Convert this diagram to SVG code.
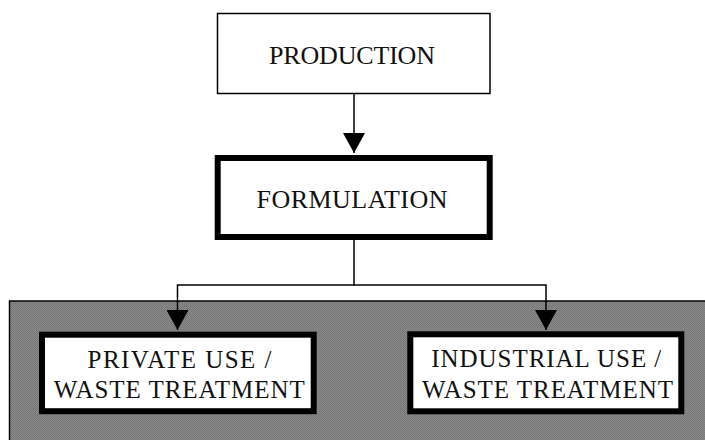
<svg xmlns="http://www.w3.org/2000/svg" width="705" height="440" viewBox="0 0 705 440">
  <style>
    .box { fill: #ffffff; stroke: #000000; }
    .thin { stroke-width: 1.5; }
    .thick { stroke-width: 6; }
    .lbl { font-family: "Liberation Serif", "Times New Roman", serif; fill: #111111; text-anchor: middle; }
    .big { font-size: 26px; }
    .small { font-size: 25px; }
    .conn { fill: none; stroke: #000000; stroke-width: 1.5; }
  </style>
  <defs>
    <pattern id="dither" x="0" y="0" width="2" height="2" patternUnits="userSpaceOnUse">
      <rect x="0" y="0" width="2" height="2" fill="#888888"/>
      <rect x="0" y="0" width="1" height="1" fill="#787878"/>
      <rect x="1" y="1" width="1" height="1" fill="#787878"/>
    </pattern>
    <marker id="arrow" viewBox="0 0 20 22" refX="20" refY="11" markerWidth="20" markerHeight="22" markerUnits="userSpaceOnUse" orient="auto">
      <path d="M0,0 L20,11 L0,22 Z" fill="#000000"/>
    </marker>
  </defs>

  <rect id="background" x="0" y="0" width="705" height="440" fill="#ffffff"/>

  <g id="panel">
    <rect x="9.5" y="301" width="710" height="160" fill="url(#dither)" stroke="#000000" stroke-width="1.5"/>
  </g>

  <g id="connectors">
    <path class="conn" d="M354,93.5 L354,153" marker-end="url(#arrow)"/>
    <path class="conn" d="M354,240 L354,285 L177.5,285 L177.5,330" marker-end="url(#arrow)"/>
    <path class="conn" d="M354,285 L546,285 L546,330" marker-end="url(#arrow)"/>
  </g>

  <g id="production">
    <rect class="box thin" x="217.5" y="13.5" width="272.5" height="80"/>
    <text class="lbl big" x="352" y="64.3" textLength="166" lengthAdjust="spacing">PRODUCTION</text>
  </g>

  <g id="formulation">
    <rect class="box thick" x="217.7" y="158" width="272" height="79"/>
    <text class="lbl big" x="352" y="207.7" textLength="191" lengthAdjust="spacing">FORMULATION</text>
  </g>

  <g id="private-use">
    <rect class="box thick" x="42" y="334.7" width="271.7" height="76.5"/>
    <text class="lbl small" x="179.5" y="368.3" textLength="184" lengthAdjust="spacing">PRIVATE USE /</text>
    <text class="lbl small" x="179.2" y="398.3" textLength="251" lengthAdjust="spacing">WASTE TREATMENT</text>
  </g>

  <g id="industrial-use">
    <rect class="box thick" x="410.3" y="334.3" width="271" height="77"/>
    <text class="lbl small" x="546.3" y="366.7" textLength="230" lengthAdjust="spacing">INDUSTRIAL USE /</text>
    <text class="lbl small" x="547.5" y="398.3" textLength="251" lengthAdjust="spacing">WASTE TREATMENT</text>
  </g>
</svg>
